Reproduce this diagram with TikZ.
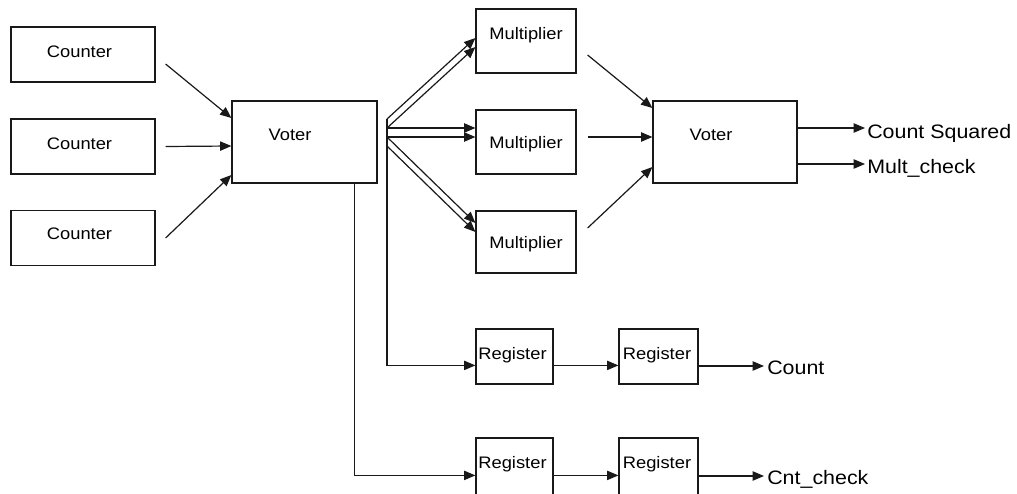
\documentclass[tikz,border=0pt]{standalone}
\usepackage{fontspec}
\setmainfont[FakeStretch=1.1]{Liberation Sans}
\usetikzlibrary{arrows.meta,calc}

\begin{document}
\begin{tikzpicture}[x=0.75pt, y=-0.75pt,
    blk/.style 2 args={draw=black!90, line width=0.9pt, rectangle, inner sep=0pt,
      minimum width=#1*0.75pt, minimum height=#2*0.75pt},
    lbl/.style={font=\fontsize{12.5}{14}\selectfont, inner sep=0pt, anchor=base},
    outlbl/.style={font=\fontsize{14.6}{17}\selectfont, inner sep=0pt, anchor=base west},
    arr/.style={draw=black!90, line width=0.9pt, -{Triangle[length=8.5pt,width=7pt]}}]
    \path[fill=white, use as bounding box] (0,0) rectangle (1017,493);

    % ブロック
    \node[blk={144}{55}] (c1) at (83, 54.5) {};
    \node[blk={144}{55}] (c2) at (83, 146.5) {};
    \node[blk={144}{55}] (c3) at (83, 238) {};
    \node[blk={145}{82}] (v1) at (304.5, 142) {};
    \node[blk={100}{64}] (m1) at (526, 41) {};
    \node[blk={100}{64}] (m2) at (526, 142) {};
    \node[blk={100}{62}] (m3) at (526, 242) {};
    \node[blk={144}{82}] (v2) at (725, 142) {};
    \node[blk={77}{55}] (r1) at (514.5, 356.5) {};
    \node[blk={79}{55}] (r2) at (658.5, 356.5) {};
    \node[blk={77}{62}] (r3) at (514.5, 469) {};
    \node[blk={79}{62}] (r4) at (658.5, 469) {};

    \node[lbl] (c1t) at (79.5, 57) {Counter};
    \node[lbl] (c2t) at (79.5, 149) {Counter};
    \node[lbl] (c3t) at (79.5, 239) {Counter};
    \node[lbl] (v1t) at (290, 140) {Voter};
    \node[lbl] (m1t) at (526, 39) {Multiplier};
    \node[lbl] (m2t) at (526, 148) {Multiplier};
    \node[lbl] (m3t) at (526, 248) {Multiplier};
    \node[lbl] (v2t) at (711, 140) {Voter};
    \node[lbl] (r1t) at (512.5, 359) {Register};
    \node[lbl] (r2t) at (657, 359) {Register};
    \node[lbl] (r3t) at (512.5, 468) {Register};
    \node[lbl] (r4t) at (657, 468) {Register};

    \coordinate (bus) at (387, 119);
    \coordinate (csin) at (865, 128);
    \coordinate (mcin) at (865, 164);
    \coordinate (cntin) at (764, 366);
    \coordinate (cckin) at (764, 476);
    \node[outlbl] (cs) at ($(csin)+(2,10)$) {Count Squared};
    \node[outlbl] (mc) at ($(mcin)+(2,9)$) {Mult\_check};
    \node[outlbl] (cnt) at ($(cntin)+(3,8)$) {Count};
    \node[outlbl] (cck) at ($(cckin)+(3,8)$) {Cnt\_check};

    % 矢印を引く
    \draw[arr] ($(c1.east)+(10,9.5)$) -- ($(v1.west)+(0,-24)$);
    \draw[arr] ($(c2.east)+(10,0)$) -- ($(v1.west)+(0,4)$);
    \draw[arr] ($(c3.east)+(10,0)$) -- ($(v1.west)+(0,33)$);

    \draw[arr] (bus) -- ($(m1.west)+(0,-3)$);
    \draw[arr] ($(bus)+(0,9)$) -- ($(m1.west)+(0,6)$);
    \draw[arr] ($(bus)+(0,9)$) -- ($(m2.west)+(0,-14)$);
    \draw[arr] ($(bus)+(0,18)$) -- ($(m2.west)+(0,-5)$);
    \draw[arr] ($(bus)+(0,18)$) -- ($(m3.west)+(0,-19)$);
    \draw[arr] ($(bus)+(0,27)$) -- ($(m3.west)+(0,-10)$);

    \draw[arr] ($(m1.east)+(11,14)$) -- ($(v2.west)+(0,-34)$);
    \draw[arr] ($(m2.east)+(11,-5)$) -- ($(v2.west)+(0,-5)$);
    \draw[arr] ($(m3.east)+(11,-14)$) -- ($(v2.west)+(0,25)$);
    \draw[arr] (v2.east |- csin) -- (csin);
    \draw[arr] (v2.east |- mcin) -- (mcin);

    \draw[arr] (bus) |- ($(r1.north west)+(0,37)$);
    \draw[arr] ($(v1.south east)+(-23,0)$) |- ($(r3.north west)+(0,38)$);
    \draw[arr] ($(r1.north east)+(0,37)$) -- ($(r2.north west)+(0,37)$);
    \draw[arr] ($(r3.north east)+(0,38)$) -- ($(r4.north west)+(0,38)$);
    \draw[arr] (r2.east |- cntin) -- (cntin);
    \draw[arr] (r4.east |- cckin) -- (cckin);
  \end{tikzpicture}
\end{document}
